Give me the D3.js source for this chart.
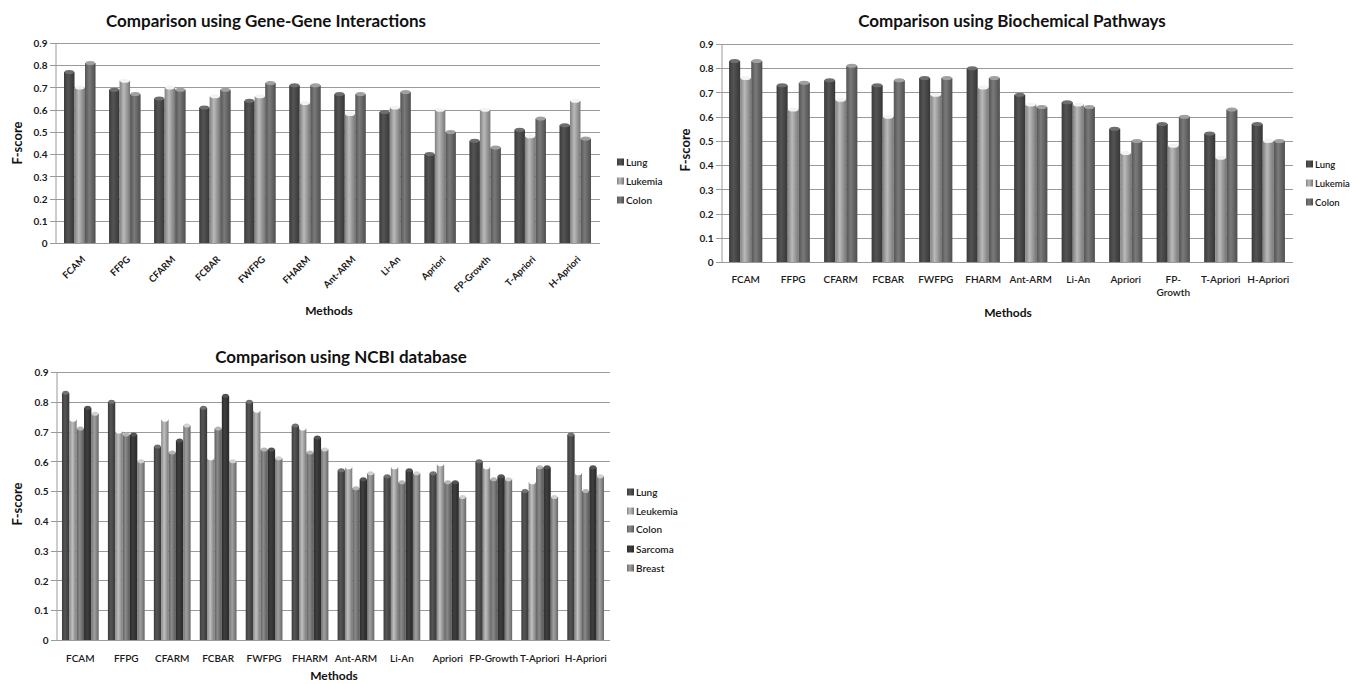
<!DOCTYPE html>
<html>
<head>
<meta charset="utf-8">
<script src="https://cdn.jsdelivr.net/npm/d3@7"></script>
<style>
  html, body { margin: 0; padding: 0; background: #fff; }
  svg { display: block; font-family: Lato, "Open Sans", sans-serif; }
</style>
</head>
<body>
<svg id="fig" width="1354" height="684"></svg>
<script>
// Method names shared by all three panels
const methods = ["FCAM", "FFPG", "CFARM", "FCBAR", "FWFPG", "FHARM", "Ant-ARM", "Li-An", "Apriori", "FP-Growth", "T-Apriori", "H-Apriori"];
const yTicks = [0, 0.1, 0.2, 0.3, 0.4, 0.5, 0.6, 0.7, 0.8, 0.9];

// Gene-Gene interactions
const geneSeries = ["Lung", "Lukemia", "Colon"];
const geneLung    = [0.77, 0.69, 0.65, 0.61, 0.64, 0.71, 0.67, 0.59, 0.40, 0.46, 0.51, 0.53];
const geneLukemia = [0.70, 0.73, 0.70, 0.66, 0.66, 0.63, 0.58, 0.61, 0.60, 0.60, 0.48, 0.64];
const geneColon   = [0.81, 0.67, 0.69, 0.69, 0.72, 0.71, 0.67, 0.68, 0.50, 0.43, 0.56, 0.47];

// Biochemical pathways
const bioSeries = ["Lung", "Lukemia", "Colon"];
const bioLung    = [0.83, 0.73, 0.75, 0.73, 0.76, 0.80, 0.69, 0.66, 0.55, 0.57, 0.53, 0.57];
const bioLukemia = [0.76, 0.63, 0.67, 0.60, 0.69, 0.72, 0.65, 0.65, 0.45, 0.48, 0.43, 0.50];
const bioColon   = [0.83, 0.74, 0.81, 0.75, 0.76, 0.76, 0.64, 0.64, 0.50, 0.60, 0.63, 0.50];

// NCBI database
const ncbiSeries = ["Lung", "Leukemia", "Colon", "Sarcoma", "Breast"];
const ncbiLung     = [0.83, 0.80, 0.65, 0.78, 0.80, 0.72, 0.57, 0.55, 0.56, 0.60, 0.50, 0.69];
const ncbiLeukemia = [0.74, 0.70, 0.74, 0.61, 0.77, 0.71, 0.58, 0.58, 0.59, 0.58, 0.53, 0.56];
const ncbiColon    = [0.71, 0.69, 0.63, 0.71, 0.64, 0.63, 0.51, 0.53, 0.53, 0.54, 0.58, 0.50];
const ncbiSarcoma  = [0.78, 0.69, 0.67, 0.82, 0.64, 0.68, 0.54, 0.57, 0.53, 0.55, 0.58, 0.58];
const ncbiBreast   = [0.76, 0.60, 0.72, 0.60, 0.61, 0.64, 0.56, 0.56, 0.48, 0.54, 0.48, 0.55];

const svg = d3.select("#fig");
const defs = svg.append("defs");
let gradId = 0;

// Cylinder-style shading for a bar colour
function cylinderFill(color) {
  const id = "cyl" + (gradId++);
  const c = d3.color(color);
  const g = defs.append("linearGradient").attr("id", id).attr("x1", "0%").attr("x2", "100%").attr("y1", "0%").attr("y2", "0%");
  g.append("stop").attr("offset", "0%").attr("stop-color", c.darker(0.7));
  g.append("stop").attr("offset", "40%").attr("stop-color", c.brighter(0.35));
  g.append("stop").attr("offset", "100%").attr("stop-color", c.darker(0.9));
  return "url(#" + id + ")";
}

function drawPanel(cfg) {
  const g = svg.append("g");
  const x0 = d3.scaleBand().domain(methods).range([cfg.left, cfg.right])
    .paddingInner(cfg.padIn).paddingOuter(cfg.padOut);
  const x1 = d3.scaleBand().domain(cfg.series).range([0, x0.bandwidth()]).padding(0);
  const y = d3.scaleLinear().domain([0, 0.9]).range([cfg.bottom, cfg.top]);

  // gridlines
  g.append("g").selectAll("line").data(yTicks).join("line")
    .attr("x1", cfg.left - 5).attr("x2", cfg.right)
    .attr("y1", d => Math.round(y(d)) + 0.5).attr("y2", d => Math.round(y(d)) + 0.5)
    .attr("stroke", "#9a9a9a").attr("stroke-width", 1);

  // y axis
  const ya = d3.axisLeft(y).tickValues(yTicks).tickFormat(d => d === 0 ? "0" : d3.format(".1f")(d)).tickSize(0).tickPadding(8);
  const yg = g.append("g").attr("transform", `translate(${cfg.left + 0.5},0.5)`).call(ya);
  yg.select(".domain").attr("stroke", "#9a9a9a");
  yg.selectAll("text").attr("font-size", 10).attr("font-weight", 700).attr("fill", "#1a1a1a")
    .attr("font-family", "Lato, sans-serif");

  // bars
  const fills = cfg.colors.map(cylinderFill);
  const groups = g.append("g").selectAll("g").data(methods).join("g")
    .attr("transform", d => `translate(${x0(d)},0)`);
  groups.each(function (m, i) {
    const gg = d3.select(this);
    cfg.series.forEach((s, k) => {
      const v = cfg.values[k][i];
      const bx = x1(s), bw = x1.bandwidth();
      gg.append("rect").attr("x", bx).attr("y", y(v)).attr("width", bw).attr("height", y(0) - y(v))
        .attr("fill", fills[k]);
      gg.append("ellipse").attr("cx", bx + bw / 2).attr("cy", y(v)).attr("rx", bw / 2 - 0.5).attr("ry", 2)
        .attr("fill", d3.color(cfg.colors[k]).brighter(1.1));
    });
  });

  // x labels
  const xl = g.append("g");
  methods.forEach(m => {
    const cx = x0(m) + x0.bandwidth() / 2;
    if (cfg.rotate) {
      xl.append("text").attr("transform", `translate(${cx + 6},${cfg.bottom + 17}) rotate(-45)`)
        .attr("text-anchor", "end").attr("font-size", 9.5).attr("font-weight", 700).attr("fill", "#1a1a1a")
        .text(m);
    } else {
      const lines = (cfg.wrap && cfg.wrap[m]) || [m];
      lines.forEach((t, li) => {
        xl.append("text").attr("x", cx).attr("y", cfg.bottom + cfg.xLabelDy + li * 13)
          .attr("text-anchor", "middle").attr("font-size", 10).attr("font-weight", 600).attr("fill", "#1a1a1a")
          .text(t);
      });
    }
  });

  // title and axis titles
  g.append("text").attr("x", cfg.titleX).attr("y", cfg.titleY).attr("text-anchor", "middle")
    .attr("font-size", 17).attr("font-weight", 700).attr("fill", "#111").text(cfg.title);
  g.append("text").attr("transform", `translate(${cfg.yTitleX},${cfg.yTitleY}) rotate(-90)`)
    .attr("text-anchor", "middle").attr("font-size", 13).attr("font-weight", 700).attr("fill", "#111").text("F-score");
  g.append("text").attr("x", cfg.xTitleX).attr("y", cfg.xTitleY).attr("text-anchor", "middle")
    .attr("font-size", 12).attr("font-weight", 700).attr("fill", "#111").text("Methods");

  // legend
  const lg = g.append("g");
  cfg.series.forEach((s, k) => {
    const ly = cfg.legendY[k];
    lg.append("rect").attr("x", cfg.legendX).attr("y", ly - 3.5).attr("width", 7).attr("height", 7)
      .attr("fill", fills[k]);
    lg.append("text").attr("x", cfg.legendX + 9).attr("y", ly + 3.5).attr("font-size", cfg.legendFont || 10)
      .attr("font-weight", 600).attr("fill", "#1a1a1a").text(s);
  });
}

drawPanel({
  title: "Comparison using Gene-Gene Interactions",
  series: geneSeries, values: [geneLung, geneLukemia, geneColon],
  colors: ["#4a4a4a", "#a4a4a4", "#6c6c6c"],
  left: 55, right: 600, top: 43, bottom: 243, padIn: 0.3, padOut: 0.2,
  rotate: true,
  titleX: 266, titleY: 27, yTitleX: 22, yTitleY: 143, xTitleX: 329, xTitleY: 315,
  legendX: 617, legendY: [162, 181, 200]
});

drawPanel({
  title: "Comparison using Biochemical Pathways",
  series: bioSeries, values: [bioLung, bioLukemia, bioColon],
  colors: ["#4a4a4a", "#a4a4a4", "#6c6c6c"],
  left: 721, right: 1293, top: 44, bottom: 262, padIn: 0.3, padOut: 0.17,
  rotate: false, xLabelDy: 21, wrap: { "FP-Growth": ["FP-", "Growth"] },
  titleX: 1012, titleY: 27, yTitleX: 690, yTitleY: 150, xTitleX: 1008, xTitleY: 317,
  legendX: 1306, legendY: [164, 183, 202], legendFont: 9.5
});

drawPanel({
  title: "Comparison using NCBI database",
  series: ncbiSeries, values: [ncbiLung, ncbiLeukemia, ncbiColon, ncbiSarcoma, ncbiBreast],
  colors: ["#4c4c4c", "#aaaaaa", "#7a7a7a", "#383838", "#8e8e8e"],
  left: 56, right: 610, top: 372, bottom: 640, padIn: 0.2, padOut: 0.13,
  rotate: false, xLabelDy: 22,
  titleX: 341, titleY: 363, yTitleX: 22, yTitleY: 504, xTitleX: 334, xTitleY: 680,
  legendX: 627, legendY: [492, 511, 529, 549, 568]
});
</script>
</body>
</html>
